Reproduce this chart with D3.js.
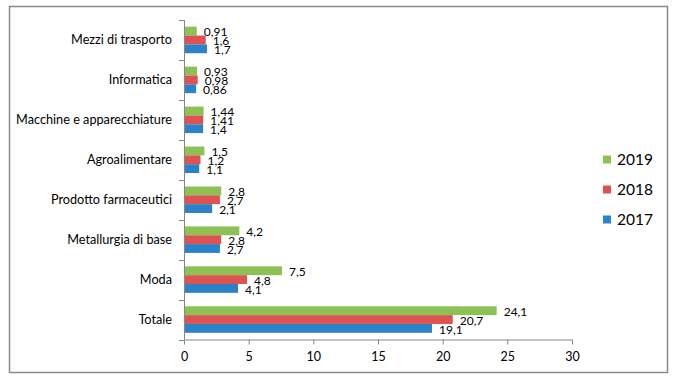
<!DOCTYPE html>
<html>
<head>
<meta charset="utf-8">
<script src="https://cdn.jsdelivr.net/npm/d3@7"></script>
<style>
  body { margin: 0; background: #fff; }
  text { font-family: Lato, "Open Sans", sans-serif; fill: #000; }
</style>
</head>
<body>
<svg id="chart" width="679" height="384"></svg>
<script>
// categories from top to bottom
var categories = ["Mezzi di trasporto", "Informatica", "Macchine e apparecchiature",
  "Agroalimentare", "Prodotto farmaceutici", "Metallurgia di base", "Moda", "Totale"];
var years = ["2019", "2018", "2017"];
var v2019 = [0.91, 0.93, 1.44, 1.5, 2.8, 4.2, 7.5, 24.1];
var v2018 = [1.6, 0.98, 1.41, 1.2, 2.7, 2.8, 4.8, 20.7];
var v2017 = [1.7, 0.86, 1.4, 1.1, 2.1, 2.7, 4.1, 19.1];
var xTicks = [0, 5, 10, 15, 20, 25, 30];
var colors = {"2019": "#8dc153", "2018": "#df5252", "2017": "#2b82c9"};

var series = {"2019": v2019, "2018": v2018, "2017": v2017};
var fmt = function(v) { return String(v).replace(".", ","); };

var svg = d3.select("#chart");

// outer frame
svg.append("rect")
  .attr("x", 9.5).attr("y", 6.5)
  .attr("width", 658).attr("height", 366)
  .attr("fill", "none").attr("stroke", "#8a8a8a").attr("stroke-width", 1.5);

var x = d3.scaleLinear().domain([0, 30]).range([184, 572]);
var y = d3.scaleBand().domain(categories).range([20, 339.5]);
var inner = d3.scaleBand().domain(years).range([0, y.bandwidth()]).paddingOuter(0.76);

// y axis line + ticks
var yAxis = svg.append("g");
yAxis.append("line")
  .attr("x1", x(0) + 0.5).attr("x2", x(0) + 0.5)
  .attr("y1", 20).attr("y2", 339.5)
  .attr("stroke", "#868686");
var yTickPos = categories.map(function(c) { return y(c); }).concat([y.range()[1]]);
yAxis.selectAll("line.tk").data(yTickPos).enter().append("line")
  .attr("class", "tk")
  .attr("x1", x(0) - 5).attr("x2", x(0) + 0.5)
  .attr("y1", function(d) { return Math.round(d) + 0.5; })
  .attr("y2", function(d) { return Math.round(d) + 0.5; })
  .attr("stroke", "#868686");
yAxis.selectAll("text").data(categories).enter().append("text")
  .attr("x", 172)
  .attr("y", function(d) { return y(d) + y.bandwidth() / 2; })
  .attr("dy", "0.35em")
  .attr("text-anchor", "end")
  .attr("font-size", 12.7)
  .text(function(d) { return d; });

// x axis
var xAxis = d3.axisBottom(x).tickValues(xTicks).tickSize(5).tickSizeOuter(0)
  .tickFormat(function(d) { return d; });
var gx = svg.append("g")
  .attr("transform", "translate(0," + 339.5 + ")")
  .call(xAxis);
gx.select(".domain").attr("stroke", "#868686");
gx.selectAll(".tick line").attr("stroke", "#868686");
gx.selectAll(".tick text")
  .attr("font-size", 12.5)
  .attr("dy", 0)
  .attr("y", 21)
  .style("font-family", "Lato, 'Open Sans', sans-serif");

// bars
years.forEach(function(yr) {
  var g = svg.append("g");
  g.selectAll("rect").data(series[yr]).enter().append("rect")
    .attr("x", x(0) + 1)
    .attr("y", function(d, i) { return y(categories[i]) + inner(yr); })
    .attr("width", function(d) { return x(d) - x(0); })
    .attr("height", inner.bandwidth())
    .attr("fill", colors[yr]);
  g.selectAll("text").data(series[yr]).enter().append("text")
    .attr("x", function(d) { return x(d) + 8; })
    .attr("y", function(d, i) { return y(categories[i]) + inner(yr) + inner.bandwidth() / 2 + 1; })
    .attr("dy", "0.35em")
    .attr("font-size", 12)
    .text(fmt);
});

// legend
var legend = svg.append("g");
years.forEach(function(yr, i) {
  var cy = 159.5 + i * 30;
  legend.append("rect")
    .attr("x", 603).attr("y", cy - 4)
    .attr("width", 8).attr("height", 8)
    .attr("fill", colors[yr]);
  legend.append("text")
    .attr("x", 617).attr("y", cy)
    .attr("dy", "0.36em")
    .attr("font-size", 15.5)
    .text(yr);
});
</script>
</body>
</html>
